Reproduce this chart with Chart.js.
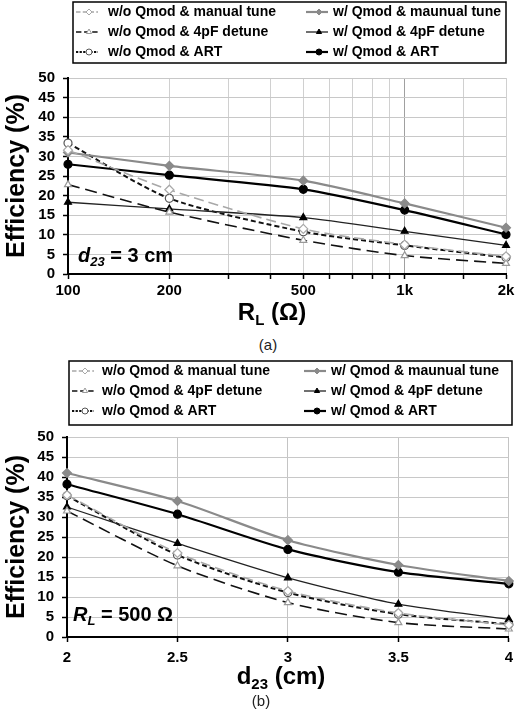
<!DOCTYPE html>
<html>
<head>
<meta charset="utf-8">
<script src="https://cdn.jsdelivr.net/npm/chart.js@4.4.0/dist/chart.umd.min.js"></script>
<style>
  body { margin: 0; background: #fff; width: 520px; height: 709px; position: relative; overflow: hidden; font-family: "Liberation Sans", Arial, sans-serif; }
  .wrap { position: absolute; left: 0; width: 520px; }
  .cap { position: absolute; font-size: 15px; color: #222; transform: translate(-50%, -50%); }
</style>
</head>
<body>
<div class="wrap" style="top:0;height:335px"><canvas id="chart-a"></canvas></div>
<div class="cap" style="left:268px;top:344px">(a)</div>
<div class="wrap" style="top:355px;height:354px"><canvas id="chart-b"></canvas></div>
<div class="cap" style="left:261px;top:700px">(b)</div>
<script>
const FONT = '"Liberation Sans", Arial, sans-serif';

const seriesNames = [
    'w/o Qmod & manual tune', 'w/ Qmod & maunual tune',
    'w/o Qmod & 4pF detune', 'w/ Qmod & 4pF detune',
    'w/o Qmod & ART', 'w/ Qmod & ART'
];

// (a) efficiency vs R_L, d23 = 3 cm
const rlValues = [100, 200, 500, 1000, 2000];
const rlTickLabels = { 100: '100', 200: '200', 500: '500', 1000: '1k', 2000: '2k' };
const woManualA = [31.6, 21.5, 11.5, 7.5, 4.5];
const wManualA  = [31.0, 27.6, 23.8, 18.0, 11.8];
const wo4pFA    = [22.8, 15.8, 8.6, 4.7, 2.7];
const w4pFA     = [18.3, 16.6, 14.4, 10.9, 7.3];
const woArtA    = [33.4, 19.3, 10.8, 7.3, 4.2];
const wArtA     = [28.0, 25.2, 21.6, 16.3, 10.1];

// (b) efficiency vs d23, R_L = 500 ohm
const d23Values = [2, 2.5, 3, 3.5, 4];
const woManualB = [35.5, 21.0, 11.5, 6.0, 3.0];
const wManualB  = [41.0, 34.0, 24.2, 18.0, 14.0];
const wo4pFB    = [31.5, 17.8, 8.6, 3.6, 2.0];
const w4pFB     = [32.5, 23.4, 14.8, 8.2, 4.4];
const woArtB    = [35.3, 20.5, 11.1, 5.7, 3.2];
const wArtB     = [38.2, 30.7, 21.9, 16.2, 13.3];

const SERIES_STYLE = [
    { borderColor: '#a8a8a8', borderDash: [10, 5], borderWidth: 1.6, pointStyle: 'rectRot', pointRadius: 4.5, pointBackgroundColor: '#fff', pointBorderColor: '#a8a8a8' },
    { borderColor: '#8a8a8a', borderWidth: 2.2, pointStyle: 'rectRot', pointRadius: 4.5, pointBackgroundColor: '#8a8a8a', pointBorderColor: '#8a8a8a' },
    { borderColor: '#111', borderDash: [12, 6], borderWidth: 1.6, pointStyle: 'triangle', pointRadius: 4, pointBackgroundColor: '#fff', pointBorderColor: '#999' },
    { borderColor: '#222', borderWidth: 1.3, pointStyle: 'triangle', pointRadius: 4, pointBackgroundColor: '#000', pointBorderColor: '#000' },
    { borderColor: '#111', borderDash: [5, 3], borderWidth: 2, pointStyle: 'circle', pointRadius: 4, pointBackgroundColor: '#fff', pointBorderColor: '#555' },
    { borderColor: '#000', borderWidth: 2.2, pointStyle: 'circle', pointRadius: 4, pointBackgroundColor: '#000', pointBorderColor: '#000' }
];

function buildDatasets(xs, seriesList) {
    return seriesList.map((ys, i) => Object.assign({
        label: seriesNames[i],
        data: xs.map((x, j) => ({ x: x, y: ys[j] })),
        tension: 0.25,
        pointBorderWidth: 1.2,
        clip: false
    }, SERIES_STYLE[i]));
}

// boxed two-column legend like the original figure
const boxLegend = {
    id: 'boxLegend',
    afterDraw(chart, args, opts) {
        const ctx = chart.ctx;
        ctx.save();
        ctx.lineWidth = 1.5;
        ctx.strokeStyle = '#000';
        ctx.strokeRect(opts.x, opts.y, opts.w, opts.h);
        ctx.font = 'bold 14px ' + FONT;
        ctx.textBaseline = 'middle';
        chart.data.datasets.forEach((ds, i) => {
            const col = i % 2, row = Math.floor(i / 2);
            const cy = opts.y + opts.rowTop + row * opts.rowGap;
            const sx = opts.sampleX[col];
            ctx.save();
            ctx.strokeStyle = ds.borderColor;
            ctx.lineWidth = ds.borderWidth;
            ctx.setLineDash(ds.borderDash ? ds.borderDash.map(v => v * 0.45) : []);
            ctx.beginPath();
            ctx.moveTo(sx, cy);
            ctx.lineTo(sx + opts.sampleW, cy);
            ctx.stroke();
            ctx.setLineDash([]);
            ctx.fillStyle = ds.pointBackgroundColor;
            ctx.strokeStyle = ds.pointBorderColor;
            ctx.lineWidth = 1;
            Chart.helpers.drawPoint(ctx, { pointStyle: ds.pointStyle, radius: 3, rotation: 0, borderWidth: 1 }, sx + opts.sampleW / 2 + 2, cy);
            ctx.restore();
            ctx.fillStyle = '#000';
            ctx.fillText(ds.label, opts.textX[col], cy);
        });
        ctx.restore();
    }
};

// text with subscripts (axis titles, annotations)
function drawRich(ctx, parts, x, y, align) {
    let total = 0;
    parts.forEach(p => { ctx.font = p.font; p.w = ctx.measureText(p.text).width; total += p.w; });
    let cx = align === 'center' ? x - total / 2 : x;
    parts.forEach(p => {
        ctx.font = p.font;
        ctx.fillText(p.text, cx, y + (p.dy || 0));
        cx += p.w;
    });
}

const richText = {
    id: 'richText',
    afterDraw(chart, args, opts) {
        const ctx = chart.ctx;
        ctx.save();
        ctx.fillStyle = '#000';
        ctx.textBaseline = 'alphabetic';
        opts.items.forEach(it => drawRich(ctx, it.parts, it.x, it.y, it.align));
        ctx.restore();
    }
};

function yAxis(width) {
    return {
        min: 0, max: 50,
        afterFit: s => { s.width = width; },
        ticks: { stepSize: 5, autoSkip: false, padding: 8, color: '#000', font: { family: FONT, size: 15, weight: 'bold' } },
        grid: { color: '#c8c8c8', lineWidth: 1, tickColor: '#000', tickLength: 5, tickWidth: 1.5 },
        border: { color: '#000', width: 2 },
        title: { display: true, text: 'Efficiency (%)', color: '#000', padding: { top: 2, bottom: 0 }, font: { family: FONT, size: 25, weight: 'bold' } }
    };
}

function baseOptions() {
    return {
        responsive: true,
        maintainAspectRatio: false,
        animation: false,
        events: [],
        plugins: { legend: { display: false }, tooltip: { enabled: false } }
    };
}

const B = 'bold ';
const optsA = baseOptions();
optsA.layout = { padding: { top: 78, right: 14, left: 0, bottom: 0 } };
optsA.scales = {
    x: {
        type: 'logarithmic', min: 100, max: 2000,
        afterFit: s => { s.height = 61; },
        ticks: {
            autoSkip: false, maxRotation: 0, padding: 3, color: '#000',
            font: { family: FONT, size: 15, weight: 'bold' },
            callback: v => rlTickLabels[Math.round(v)] || ''
        },
        grid: {
            color: c => (c.tick && Math.round(c.tick.value) === 1000) ? '#a0a0a0' : '#d0d0d0',
            tickColor: '#000', tickLength: 5, tickWidth: 1.5
        },
        border: { color: '#000', width: 2 }
    },
    y: yAxis(68)
};
optsA.plugins.boxLegend = { x: 73, y: 2, w: 433, h: 61, rowTop: 10, rowGap: 20, sampleX: [76, 306], sampleW: 22, textX: [108, 333] };
optsA.plugins.richText = { items: [
    { x: 272, y: 320, align: 'center', parts: [
        { text: 'R', font: B + '24px ' + FONT },
        { text: 'L', font: B + '15px ' + FONT, dy: 5 },
        { text: ' (\u03A9)', font: B + '24px ' + FONT }
    ] },
    { x: 78, y: 262, align: 'left', parts: [
        { text: 'd', font: 'italic bold 20px ' + FONT },
        { text: '23', font: 'italic bold 13px ' + FONT, dy: 4 },
        { text: ' = 3 cm', font: B + '20px ' + FONT }
    ] }
] };

new Chart(document.getElementById('chart-a'), {
    type: 'line',
    data: { datasets: buildDatasets(rlValues, [woManualA, wManualA, wo4pFA, w4pFA, woArtA, wArtA]) },
    options: optsA,
    plugins: [boxLegend, richText]
});

const optsB = baseOptions();
optsB.layout = { padding: { top: 82, right: 7, left: 0, bottom: 0 } };
optsB.scales = {
    x: {
        type: 'linear', min: 2, max: 4,
        afterFit: s => { s.height = 72; },
        ticks: {
            stepSize: 0.5, autoSkip: false, maxRotation: 0, padding: 7, color: '#000',
            font: { family: FONT, size: 15, weight: 'bold' },
            callback: v => String(Math.round(v * 10) / 10)
        },
        grid: { color: '#c4c4c4', tickColor: '#000', tickLength: 5, tickWidth: 1.5 },
        border: { color: '#000', width: 2 }
    },
    y: yAxis(67)
};
optsB.plugins.boxLegend = { x: 69, y: 6, w: 443, h: 64, rowTop: 10, rowGap: 20, sampleX: [72, 304], sampleW: 22, textX: [102, 331] };
optsB.plugins.richText = { items: [
    { x: 281, y: 329, align: 'center', parts: [
        { text: 'd', font: B + '24px ' + FONT },
        { text: '23', font: B + '15px ' + FONT, dy: 5 },
        { text: ' (cm)', font: B + '24px ' + FONT }
    ] },
    { x: 73, y: 266, align: 'left', parts: [
        { text: 'R', font: 'italic bold 20px ' + FONT },
        { text: 'L', font: 'italic bold 13px ' + FONT, dy: 4 },
        { text: ' = 500 \u03A9', font: B + '20px ' + FONT }
    ] }
] };

new Chart(document.getElementById('chart-b'), {
    type: 'line',
    data: { datasets: buildDatasets(d23Values, [woManualB, wManualB, wo4pFB, w4pFB, woArtB, wArtB]) },
    options: optsB,
    plugins: [boxLegend, richText]
});
</script>
</body>
</html>
